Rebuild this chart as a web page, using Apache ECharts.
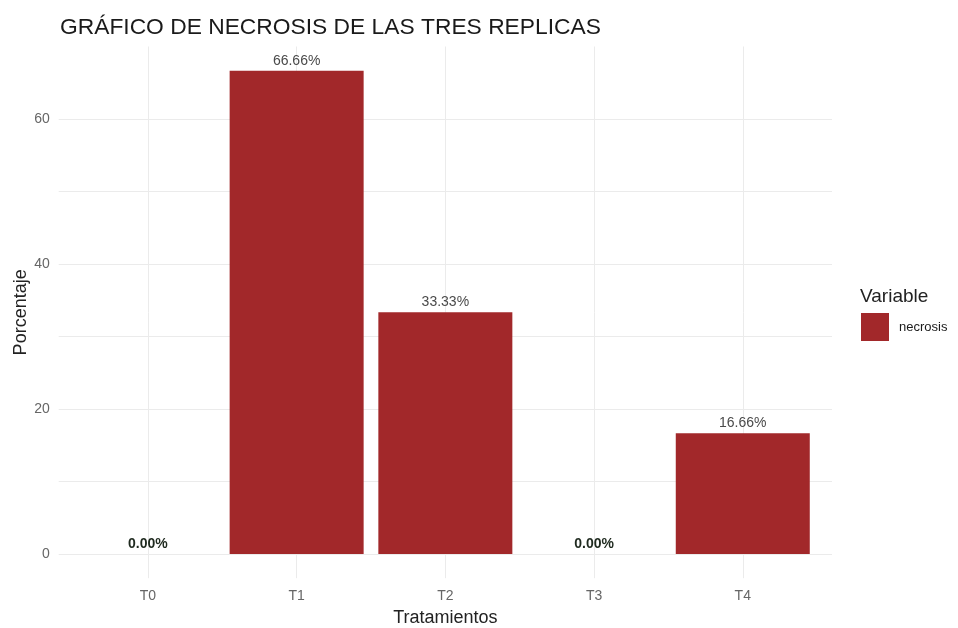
<!DOCTYPE html>
<html>
<head>
<meta charset="utf-8">
<script src="https://cdn.jsdelivr.net/npm/echarts@6/dist/echarts.min.js"></script>
<style>
  html, body { margin: 0; padding: 0; background: #fff; overflow: hidden; }
  #chart { width: 958px; height: 628px; }
</style>
</head>
<body>
<div id="chart"></div>
<script>
// Necrosis percentage per treatment (mean of three replicates)
const categories = ['T0', 'T1', 'T2', 'T3', 'T4'];
const necrosis = [0.00, 66.66, 33.33, 0.00, 16.66];
const yTickValues = [0, 20, 40, 60];
const yGridValues = [0, 10, 20, 30, 40, 50, 60];

// Continuous range padded like a discrete scale (0.6 band on each side)
const xPositions = categories.map((c, i) => i + 1);
const yMax = Math.max(...necrosis);
const yPad = yMax * 0.05;

const barColor = '#a2282a';
const font = 'Liberation Sans, Arial, sans-serif';

const barData = necrosis.map((v, i) => {
  const item = { value: [xPositions[i], v] };
  if (v === 0) {
    item.label = { fontWeight: 'bold', color: '#1f2a1f' };
  }
  return item;
});

const chart = echarts.init(document.getElementById('chart'), null, {
  renderer: 'canvas', width: 958, height: 628
});

chart.setOption({
  backgroundColor: '#ffffff',
  animation: false,
  title: [
    {
      text: 'GRÁFICO DE NECROSIS DE LAS TRES REPLICAS',
      left: 55,
      top: 11,
      textStyle: { fontFamily: font, fontSize: 22.8, fontWeight: 'normal', color: '#1a1a1a' }
    },
    {
      text: 'Variable',
      left: 855,
      top: 282,
      textStyle: { fontFamily: font, fontSize: 19, fontWeight: 'normal', color: '#222' }
    }
  ],
  legend: {
    left: 856,
    top: 308,
    itemWidth: 28,
    itemHeight: 28,
    itemGap: 6,
    icon: 'rect',
    data: ['necrosis'],
    textStyle: { fontFamily: font, fontSize: 13, color: '#1a1a1a', padding: [0, 0, 0, 5] }
  },
  grid: {
    left: 58.7,
    right: 126,
    top: 46.5,
    bottom: 49.8,
    containLabel: false,
    outerBoundsMode: 'none'
  },
  xAxis: {
    type: 'value',
    min: 0.4,
    max: categories.length + 0.6,
    name: 'Tratamientos',
    nameLocation: 'middle',
    nameGap: 31,
    nameMoveOverlap: false,
    nameTextStyle: { fontFamily: font, fontSize: 18, color: '#222' },
    axisLine: { show: false },
    axisTick: { show: false, customValues: xPositions },
    axisLabel: {
      customValues: xPositions,
      margin: 11,
      fontFamily: font,
      fontSize: 14,
      color: '#666',
      formatter: (v) => categories[Math.round(v) - 1] || ''
    },
    splitLine: { show: true, lineStyle: { color: '#ebebeb', width: 1 } }
  },
  yAxis: {
    type: 'value',
    min: -yPad,
    max: yMax + yPad,
    name: 'Porcentaje',
    nameLocation: 'middle',
    nameRotate: 90,
    nameGap: 29,
    nameMoveOverlap: false,
    nameTextStyle: { fontFamily: font, fontSize: 18, color: '#222' },
    axisLine: { show: false },
    axisTick: { show: false, customValues: yGridValues },
    axisLabel: {
      customValues: yTickValues,
      margin: 9,
      fontFamily: font,
      fontSize: 14,
      color: '#666'
    },
    splitLine: { show: true, lineStyle: { color: '#ebebeb', width: 1 } }
  },
  series: [
    {
      name: 'necrosis',
      type: 'bar',
      barWidth: 134,
      itemStyle: { color: barColor },
      data: barData,
      label: {
        show: true,
        position: 'top',
        distance: 3,
        fontFamily: font,
        fontSize: 14,
        color: '#4a4a4a',
        formatter: (p) => p.value[1].toFixed(2) + '%'
      }
    }
  ]
});
</script>
</body>
</html>
